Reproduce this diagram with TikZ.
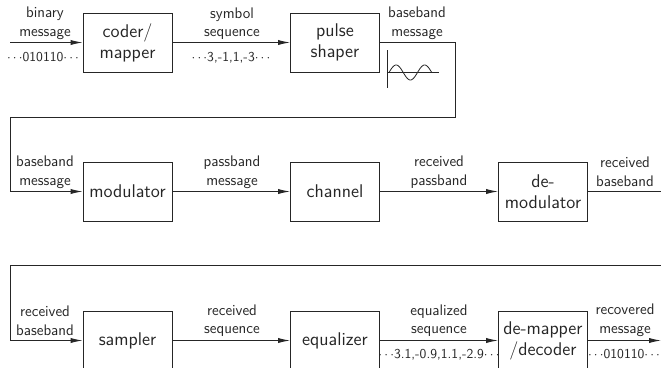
\documentclass[tikz,border=0pt]{standalone}
\usetikzlibrary{arrows.meta}
\begin{document}
\begin{tikzpicture}[x=0.75pt,y=-0.75pt,
  ln/.style={draw=black!85, line width=0.7pt},
  arr/.style={ln, -{Latex[length=9pt,width=3.9pt]}},
  box/.style={draw=black!85, line width=0.7pt, minimum width=66.75pt, minimum height=44.25pt, inner sep=0pt, align=center, font=\fontsize{13.8}{15.8}\selectfont\sffamily, text=black!85},
  lbl/.style={inner sep=0pt, align=center, font=\fontsize{11.5}{13.9}\selectfont\sffamily, text=black!85},
  seq/.style={inner sep=0pt, font=\fontsize{10.2}{11}\selectfont\sffamily, text=black!85}]
\useasboundingbox (0,0) rectangle (661,368);
\clip (0,0) rectangle (661,368);
% boxes
\node[box] (coder) at (127.5,42.5) {coder/\\mapper};
\node[box] (pulse) at (335,42.5) {pulse\\shaper};
\node[box] (mod) at (127.5,191.5) {modulator};
\node[box] (chan) at (335,191.5) {channel};
\node[box] (demod) at (543,191.5) {de-\\modulator};
\node[box] (samp) at (127.5,340.5) {sampler};
\node[box] (eq) at (335,340.5) {equalizer};
\node[box] (demap) at (543,340.5) {de-mapper\\/decoder};
% free ends
\coordinate (in) at (10,42.5);
\coordinate (c1) at (455,42.5);
\coordinate (c2) at (455,117);
\coordinate (c3) at (10,117);
\coordinate (c4) at (10,191.5);
\coordinate (d1) at (690,191.5);
\coordinate (d2) at (690,265);
\coordinate (d3) at (10,265);
\coordinate (d4) at (10,340.5);
\coordinate (out) at (661,340.5);
% connectors
\draw[arr] (in) -- (coder.west);
\draw[arr] (coder.east) -- (pulse.west);
\draw[ln] (pulse.east) -- (c1) -- (c2) -- (c3) -- (c4);
\draw[arr] (c4) -- (mod.west);
\draw[arr] (mod.east) -- (chan.west);
\draw[arr] (chan.east) -- (demod.west);
\draw[ln] (demod.east) -- (d1) -- (d2) -- (d3) -- (d4);
\draw[arr] (d4) -- (samp.west);
\draw[arr] (samp.east) -- (eq.west);
\draw[arr] (eq.east) -- (demap.west);
\draw[arr] (demap.east) -- (out);
% waveform inset
\coordinate (wv0) at (387,50);
\coordinate (wv1) at (387,88);
\coordinate (wh0) at (387,72.5);
\coordinate (wh1) at (439,72.5);
\draw[ln, line width=0.6pt] (wv0) -- (wv1);
\draw[ln, line width=0.6pt] (wh0) -- (wh1);
\draw[ln, line width=0.6pt] plot[domain=0:3*pi, samples=80, smooth] ({389+\x*28.5/(2*pi)}, {72.5-7.5*sin(\x r)});
% labels
\node[lbl] (l1) at (45,23.5) {binary\\message};
\node[seq] (s1) at (43,57.5) {$\cdots$010110$\cdots$};
\node[lbl] (l2) at (232,23.5) {symbol\\sequence};
\node[seq] (s2) at (231,57.5) {$\cdots$3,-1,1,-3$\cdots$};
\node[lbl] (l3) at (417,23.5) {baseband\\message};
\node[lbl] (l4) at (45,172) {baseband\\message};
\node[lbl] (l5) at (232,172) {passband\\message};
\node[lbl] (l6) at (439,172) {received\\passband};
\node[lbl] (l7) at (625,172) {received\\baseband};
\node[lbl] (l8) at (45,320.5) {received\\baseband};
\node[lbl] (l9) at (232,320.5) {received\\sequence};
\node[lbl] (l10) at (439,320.5) {equalized\\sequence};
\node[seq] (s3) at (439,354.5) {$\cdots$3.1,-0.9,1.1,-2.9$\cdots$};
\node[lbl] (l11) at (625,320.5) {recovered\\message};
\node[seq] (s4) at (624,354.5) {$\cdots$010110$\cdots$};
\end{tikzpicture}
\end{document}
